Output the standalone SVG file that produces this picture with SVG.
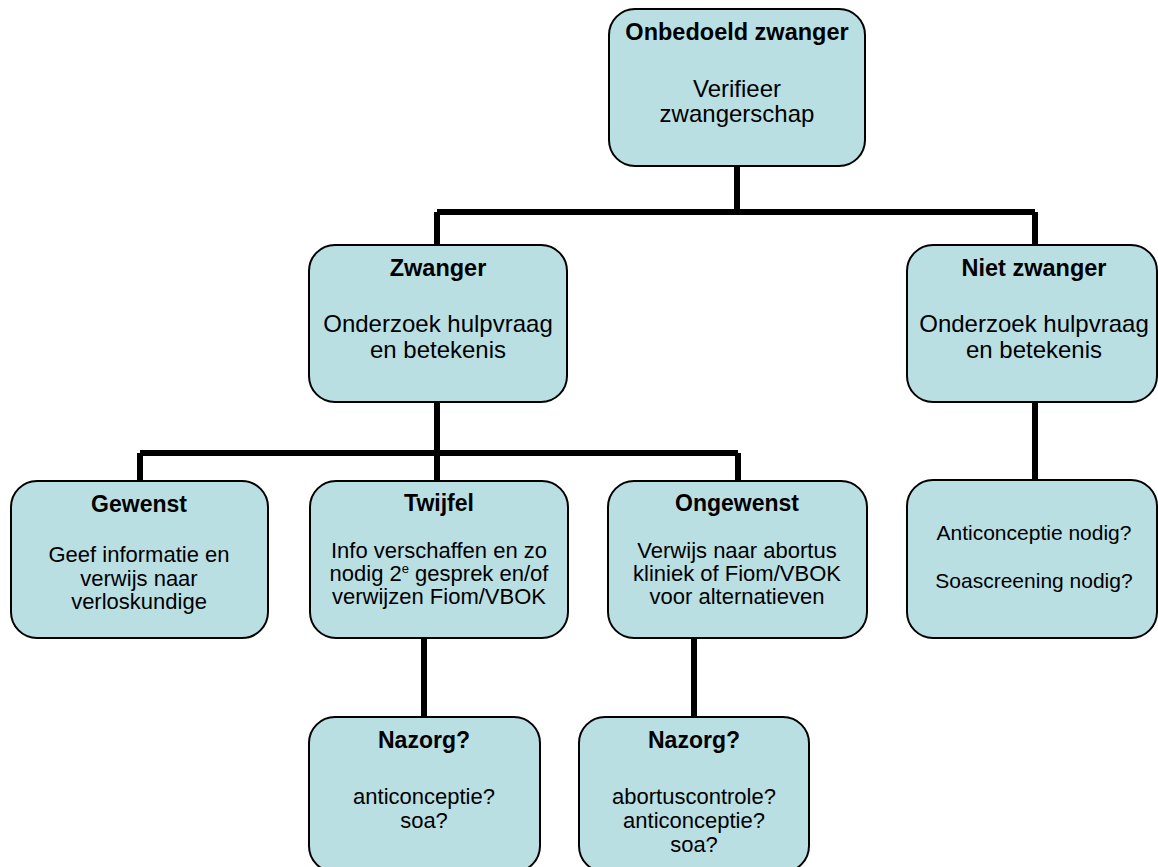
<svg xmlns="http://www.w3.org/2000/svg" width="1158" height="867" viewBox="0 0 1158 867">
<style>
.box{fill:#B9DFE3;stroke:#000;stroke-width:2}
.c{fill:none;stroke:#000;stroke-width:6}
text{font-family:"Liberation Sans",Arial,sans-serif;text-anchor:middle;fill:#000}
.t1{font-weight:bold;font-size:23.5px}
.b1{font-size:24px}
.t2{font-weight:bold;font-size:23px}
.b2{font-size:22px}
.b3{font-size:21px}
</style>
<rect width="1158" height="867" fill="#fff"/>
<g id="connectors">
<path class="c" d="M737 166V212M437 212H1035M437 212V245M1035 212V245M1035 402V480M437 402V481M140 453H738M140 453V481M738 453V481M424 638V717M694 638V717"/>
</g>
<g id="n-onbedoeld">
<rect class="box" x="609" y="9" width="256" height="157" rx="26"/>
<text class="t1" x="737" y="40">Onbedoeld zwanger</text>
<text class="b1" x="737" y="97">Verifieer</text>
<text class="b1" x="737" y="122">zwangerschap</text>
</g>
<g id="n-zwanger">
<rect class="box" x="309" y="245" width="258" height="157" rx="26"/>
<text class="t1" x="438" y="276">Zwanger</text>
<text class="b1" x="438" y="332">Onderzoek hulpvraag</text>
<text class="b1" x="438" y="358">en betekenis</text>
</g>
<g id="n-nietzwanger">
<rect class="box" x="907" y="245" width="250" height="157" rx="26"/>
<text class="t1" x="1034" y="276">Niet zwanger</text>
<text class="b1" x="1034" y="332">Onderzoek hulpvraag</text>
<text class="b1" x="1034" y="358">en betekenis</text>
</g>
<g id="n-gewenst">
<rect class="box" x="11" y="481" width="257" height="157" rx="26"/>
<text class="t2" x="139" y="512">Gewenst</text>
<text class="b2" x="139" y="562">Geef informatie en</text>
<text class="b2" x="139" y="586">verwijs naar</text>
<text class="b2" x="139" y="609">verloskundige</text>
</g>
<g id="n-twijfel">
<rect class="box" x="310" y="481" width="258" height="157" rx="26"/>
<text class="t2" x="439" y="511">Twijfel</text>
<text class="b2" x="439" y="558">Info verschaffen en zo</text>
<text class="b2" x="439" y="581">nodig 2<tspan font-size="13" dy="-8">e</tspan><tspan dy="8"> gesprek en/of</tspan></text>
<text class="b2" x="439" y="604">verwijzen Fiom/VBOK</text>
</g>
<g id="n-ongewenst">
<rect class="box" x="608" y="481" width="259" height="157" rx="26"/>
<text class="t2" x="737" y="511">Ongewenst</text>
<text class="b2" x="737" y="558">Verwijs naar abortus</text>
<text class="b2" x="737" y="581">kliniek of Fiom/VBOK</text>
<text class="b2" x="737" y="604">voor alternatieven</text>
</g>
<g id="n-anticonceptie">
<rect class="box" x="907" y="480" width="250" height="158" rx="26"/>
<text class="b3" x="1034" y="540">Anticonceptie nodig?</text>
<text class="b3" x="1034" y="588">Soascreening nodig?</text>
</g>
<g id="n-nazorg1">
<rect class="box" x="309" y="717" width="231" height="155" rx="26"/>
<text class="t2" x="424" y="748">Nazorg?</text>
<text class="b2" x="424" y="804">anticonceptie?</text>
<text class="b2" x="424" y="828">soa?</text>
</g>
<g id="n-nazorg2">
<rect class="box" x="579" y="717" width="230" height="155" rx="26"/>
<text class="t2" x="694" y="748">Nazorg?</text>
<text class="b2" x="694" y="804">abortuscontrole?</text>
<text class="b2" x="694" y="828">anticonceptie?</text>
<text class="b2" x="694" y="852">soa?</text>
</g>
</svg>
